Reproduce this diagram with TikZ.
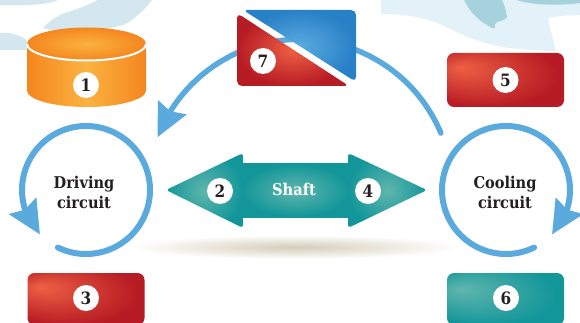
\documentclass[tikz,border=0pt]{standalone}
\usepackage{fontspec}
\newfontfamily\slabfont[FakeStretch=0.9]{DejaVu Serif}
\usetikzlibrary{arrows.meta,bending}

\definecolor{arcblue}{RGB}{91,170,222}
\definecolor{tealbase}{RGB}{18,150,154}
\definecolor{tealhl}{RGB}{96,182,172}
\definecolor{redbase}{RGB}{183,28,36}
\definecolor{redhl}{RGB}{238,96,68}
\definecolor{orangebase}{RGB}{244,134,31}
\definecolor{orangehl}{RGB}{251,178,64}
\definecolor{bluebase}{RGB}{40,128,198}
\definecolor{bluehl}{RGB}{90,170,225}
\definecolor{mappale}{RGB}{212,231,238}
\definecolor{mapsky}{RGB}{226,242,248}
\definecolor{mapdeep}{RGB}{166,210,222}
\definecolor{shadowtan}{RGB}{212,205,186}
\definecolor{inkgray}{RGB}{35,31,32}

\pgfdeclareradialshading{redglow}{\pgfpoint{-20bp}{12bp}}{color(0bp)=(redhl); color(30bp)=(redbase); color(50bp)=(redbase)}
\pgfdeclareradialshading{tealglow}{\pgfpoint{-20bp}{10bp}}{color(0bp)=(tealhl); color(30bp)=(tealbase); color(50bp)=(tealbase)}

\newcommand\labelfont{\slabfont\bfseries\fontsize{16.2}{20}\selectfont}
\newcommand\numfont{\slabfont\bfseries\fontsize{17}{17}\selectfont}

\tikzset{every picture/.style={line width=0.5pt},
  cyclearrow/.style={draw=arcblue, line width=5.5pt, line cap=round, -{Stealth[length=33pt,width=31pt,inset=4pt]}},
  numdot/.style={circle, fill=white, inner sep=0pt, minimum size=26pt, font=\numfont, text=inkgray},
  redbox/.style={rectangle, rounded corners=7pt, minimum width=117pt, minimum height=54pt, shade, shading=redglow},
  tealbox/.style={redbox, shading=tealglow},
  circuitlabel/.style={align=center, font=\labelfont, text=inkgray}}

\begin{document}
\begin{tikzpicture}[x=1pt,y=1pt,yscale=-1]
\useasboundingbox (0,0) rectangle (580,323);
%Shape: map top left
\fill[mappale] (0,0) -- (58,0) .. controls (50,4) and (30,6) .. (0,5) -- cycle ;
\fill[mappale] (43,28) .. controls (50,20) and (60,14) .. (68,12) .. controls (78,9) and (88,5) .. (98,0) -- (152,0) .. controls (146,8) and (138,16) .. (126,24) .. controls (110,30) and (80,32) .. (60,32) -- cycle ;
\fill[mappale] (0,33) .. controls (10,32) and (18,35) .. (24,38) .. controls (28,42) and (30,46) .. (30,50) -- (0,50) -- cycle ;
%Shape: map top right
\fill[mapsky] (381,0) -- (381,14) .. controls (400,14) and (420,16) .. (440,24) .. controls (460,34) and (480,44) .. (510,48) .. controls (530,50) and (545,51) .. (556,51) .. controls (553,40) and (550,28) .. (548,18) .. controls (560,16) and (570,15) .. (580,15) -- (580,0) -- cycle ;
\fill[mapdeep] (464,0) .. controls (470,12) and (478,20) .. (487,25) .. controls (490,27) and (493,29) .. (495,28) .. controls (494,25) and (495,23) .. (497,22) .. controls (502,21) and (506,19) .. (507,17) .. controls (506,10) and (504,4) .. (502,0) -- cycle ;
\fill[mapdeep] (517,0) .. controls (530,5) and (560,6) .. (580,3) -- (580,0) -- cycle ;
%Shape: shadow under the shaft
\shade[inner color=shadowtan, outer color=white] (295,247) ellipse [x radius=165, y radius=12];

%Curve Lines: big loop
\coordinate (loopc) at (300,192);
\draw[cyclearrow] ([shift={(-22.7:152.7)}]loopc) arc [start angle=-22.7, end angle=-159, radius=152.7];

%Shape: box 7
\shade[inner color=redhl, outer color=redbase, rounded corners=5pt] (237,13) -- (237,86) -- (349,86) -- cycle ;
\shade[inner color=bluehl, outer color=bluebase, rounded corners=5pt] (243,10) -- (356,10) -- (356,82) -- cycle ;
\node[numdot] (n7) at (263,61) {7};

%Shape: cylinder 1
\shade[left color=orangebase, right color=orangebase, middle color=orangehl] (27,44) -- (27,90.5) arc [start angle=180, end angle=0, x radius=59.5, y radius=16.5] -- (146,44) -- cycle ;
\shade[inner color=orangehl, outer color=orangebase] (86.5,44) ellipse [x radius=59.5, y radius=16.5];
\draw[white, line width=2pt] (27,44) arc [start angle=180, end angle=0, x radius=59.5, y radius=16.5];
\node[numdot] (n1) at (86,85) {1};

%Shape: boxes 5, 3, 6
\node[redbox] (box5) at (505.5,80) {};
\node[numdot] (n5) at (box5) {5};
\node[redbox, minimum height=52pt] (box3) at (86,299) {};
\node[numdot] (n3) at (86,298) {3};
\node[tealbox, minimum height=52pt] (box6) at (505.5,299) {};
\node[numdot] (n6) at (506,298) {6};

%Curve Lines: the two circuits
\node[circuitlabel] (drive) at (84,192) {Driving\\circuit};
\coordinate (drivec) at (86,190);
\draw[cyclearrow, line width=6pt] ([shift={(116:64)}]drivec) arc [start angle=116, end angle=-224, radius=64];
\node[circuitlabel] (cool) at (505,192) {Cooling\\circuit};
\coordinate (coolc) at (506,190);
\draw[cyclearrow, line width=6pt] ([shift={(64:64)}]coolc) arc [start angle=64, end angle=404, radius=64];

%Shape: shaft double arrow
\shade[inner color=tealhl, outer color=tealbase, rounded corners=3pt] (166,190) -- (243,153) -- (243,228) -- cycle ;
\shade[inner color=tealhl, outer color=tealbase] (242,164) rectangle (349,217);
\shade[inner color=tealhl, outer color=tealbase, rounded corners=3pt] (427,190) -- (348,153) -- (348,228) -- cycle ;
\node[numdot] (n2) at (220,191) {2};
\node[numdot] (n4) at (368,191) {4};
\node[font=\labelfont, text=white] (shaft) at (294,189) {Shaft};
\end{tikzpicture}
\end{document}
